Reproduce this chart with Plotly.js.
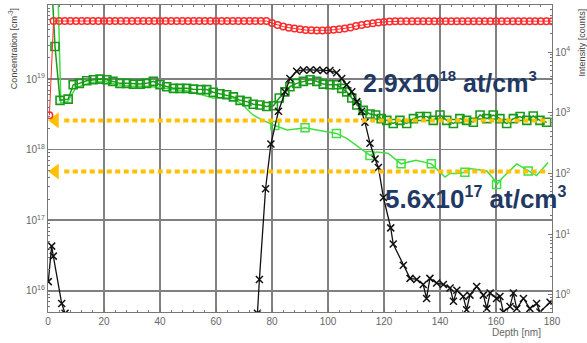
<!DOCTYPE html>
<html>
<head>
<meta charset="utf-8">
<script src="https://cdn.plot.ly/plotly-3.0.1.min.js"></script>
<style>
html,body{margin:0;padding:0;background:#fff;}
#chart{width:587px;height:343px;}
</style>
</head>
<body>
<div id="chart"></div>
<script>
// ---- data ----
// Red circles: matrix intensity (right axis, counts)
const redX = [0.5,2,4,6,8,10,12,14,16,18,20,22,24,26,28,30,32,34,36,38,40,42,44,46,48,50,52,54,56,58,60,62,64,66,68,70,72,74,76,78,
  80,82,84,86,88,90,92,94,96,98,100,102,104,106,108,110,112,114,116,118,120,122,
  124,126,128,130,132,134,136,138,140,142,144,146,148,150,152,154,156,158,160,162,164,166,168,170,172,174,176,178,180];
const redY = [910,3.24e4,3.24e4,3.24e4,3.24e4,3.24e4,3.24e4,3.24e4,3.24e4,3.24e4,3.24e4,3.24e4,3.24e4,3.24e4,3.24e4,3.24e4,3.24e4,3.24e4,3.24e4,3.24e4,3.24e4,3.24e4,3.24e4,3.24e4,3.24e4,3.24e4,3.24e4,3.24e4,3.24e4,3.24e4,3.24e4,3.24e4,3.24e4,3.24e4,3.24e4,3.24e4,3.24e4,3.24e4,3.24e4,3.24e4,
  3.0e4,2.78e4,2.62e4,2.52e4,2.43e4,2.36e4,2.3e4,2.28e4,2.26e4,2.26e4,2.28e4,2.32e4,2.37e4,2.44e4,2.53e4,2.68e4,2.78e4,2.89e4,2.97e4,3.06e4,3.13e4,3.18e4,
  3.22e4,3.22e4,3.22e4,3.22e4,3.22e4,3.22e4,3.22e4,3.22e4,3.22e4,3.22e4,3.22e4,3.22e4,3.22e4,3.22e4,3.22e4,3.22e4,3.22e4,3.22e4,3.22e4,3.22e4,3.22e4,3.22e4,3.22e4,3.22e4,3.22e4,3.22e4,3.22e4,3.22e4,3.22e4];

// Dark green squares: concentration (left axis, cm^-3)
const dgX = [1.2,2.5,4.3,7.2,9.0,11.2,13.8,16.2,18.6,21.0,23.2,25.7,28.1,30.5,32.9,35.2,37.6,40.0,42.4,44.8,47.1,49.5,51.9,54.6,56.7,59.0,61.4,63.8,66.2,68.6,71.0,73.3,75.7,78.1,80.5,82.6,84.6,86.4,88.8,91.2,93.6,96.0,98.3,100.7,103.1,104.9,106.7,108.5,110.3,112.6,115.0,117.0,119.0,121.0,123.3,125.7,128.1,130.5,132.9,135.2,137.6,140.0,142.4,144.8,147.1,149.5,151.9,154.3,156.7,159.0,161.4,163.8,166.2,168.6,171.0,173.3,175.7,178.1];
const dgY = [3e20,2.9e19,5.0e18,5.2e18,8.3e18,8.7e18,9.5e18,9.8e18,1.0e19,9.8e18,9.3e18,8.7e18,8.7e18,8.5e18,8.5e18,8.7e18,9.3e18,8.3e18,7.8e18,7.4e18,7.4e18,7.4e18,7.2e18,7.1e18,7.1e18,6.5e18,6.2e18,6.0e18,5.6e18,5.0e18,4.8e18,4.4e18,4.3e18,4.1e18,4.2e18,5.4e18,6.6e18,7.8e18,8.7e18,9.3e18,9.8e18,9.3e18,8.5e18,8.3e18,8.3e18,7.4e18,6.6e18,5.4e18,4.3e18,3.6e18,3.2e18,3.1e18,2.75e18,2.6e18,2.35e18,2.6e18,2.35e18,2.75e18,2.95e18,2.95e18,2.6e18,3.1e18,2.6e18,2.35e18,2.75e18,2.6e18,2.45e18,3.1e18,2.75e18,3.1e18,2.75e18,2.35e18,2.75e18,2.95e18,2.6e18,3.0e18,2.6e18,2.45e18];

// Light green line: concentration (left axis)
const lgX = [3.4,4.6,7.0,10.0,15.0,20.0,25.0,30.0,35.0,40.0,45.0,50.0,54.9,59.0,66.1,69.6,73.2,76.8,81.0,85.4,90.0,91.8,96.0,99.5,103.0,106.7,110.3,113.2,115.0,117.4,121.4,126.1,131.4,136.9,140.0,141.8,143.6,146.0,148.9,150.7,156.7,159.0,160.2,162.6,167.4,171.5,174.5,178.6];
const lgY = [3e20,4.6e18,4.8e18,7.6e18,8.9e18,9.3e18,8.3e18,7.9e18,7.9e18,7.6e18,7.1e18,6.8e18,6.0e18,5.4e18,5.4e18,4.3e18,3.1e18,2.6e18,2.2e18,1.9e18,2.0e18,2.05e18,1.9e18,1.8e18,1.7e18,1.45e18,1.15e18,9.3e17,8.3e17,9.3e17,8.9e17,6.3e17,7.1e17,6.3e17,4.8e17,4.1e17,4.6e17,4.6e17,4.8e17,5.4e17,5.0e17,3.9e17,3.2e17,4.1e17,6.3e17,5.0e17,4.3e17,6.6e17];
const lgMarkedIdx = [18,21,24,28,31,33,38,42,45];

// Black crosses: concentration (left axis)
const bkX = [0.1,1.3,1.9,4.9,6.1,null,74.8,75.5,77.7,79.6,82.3,84.6,86.4,88.8,91.2,93.6,96.0,98.3,100.7,103.1,104.9,106.7,108.5,110.3,112.0,113.2,115.0,116.8,118.0,119.8,122.4,123.3,126.9,129.3,131.7,134.0,135.2,136.4,138.8,141.2,143.6,144.8,146.0,148.3,149.5,150.7,153.1,155.5,156.7,157.9,160.2,161.4,162.6,165.0,166.2,167.4,169.8,172.1,174.5,175.7,179.3];
const bkY = [1.35e16,4.3e16,3.1e16,6.6e15,4.8e15,null,4.8e15,1.45e16,2.8e17,1.2e18,3.5e18,6.6e18,1.02e19,1.29e19,1.35e19,1.35e19,1.35e19,1.32e19,1.32e19,1.23e19,1.02e19,8.3e18,6.6e18,4.8e18,3.5e18,2.45e18,1.23e18,7.4e17,5.6e17,2.1e17,7.8e16,4.6e16,2.3e16,1.5e16,1.45e16,1.23e16,7.8e15,1.5e16,1.29e16,1.23e16,1.1e16,7.1e15,1.02e16,8.3e15,5.4e15,8.7e15,1.15e16,8.7e15,5.6e15,9.3e15,7.8e15,8.3e15,5.0e15,6.0e15,9.3e15,5.6e15,7.8e15,5.6e15,6.6e15,5.0e15,6.9e15];

// Orange level markers and their labels
const levelY = [2.6e18, 4.9e17];
const levelMantissa = ['2.9', '5.6'];
const levelExponent = ['18', '17'];
const levelUnit = 'at/cm';

// Tick labels
const xTicks = [0,20,40,60,80,100,120,140,160,180];
const leftTickVals = [1e16,1e17,1e18,1e19];
const leftTickText = ['10<sup>16</sup>','10<sup>17</sup>','10<sup>18</sup>','10<sup>19</sup>'];
const rightTickVals = [1,10,100,1000,10000];
const rightTickText = ['10<sup>0</sup>','10<sup>1</sup>','10<sup>2</sup>','10<sup>3</sup>','10<sup>4</sup>'];

// ---- styling / positions ----
const arrowTipX = 2.6, arrowEndX = 179;
const ORANGE = '#FFC000';
const NAVY = '#1F3864';
const GRID = '#808080';
const TICKC = '#666';

function labelText(i, supPx) {
  return levelMantissa[i] + 'x10<sup><span style="font-size:' + supPx + 'px">' + levelExponent[i] +
    '</span></sup> ' + levelUnit + '<sup><span style="font-size:' + supPx + 'px">3</span></sup>';
}

const traces = [];
traces.push({x: redX, y: redY, yaxis: 'y2', mode: 'lines+markers',
  line: {color: '#ff2a2a', width: 1},
  marker: {symbol: 'circle-open', size: 6.5, color: '#ff2a2a', line: {width: 1.5, color: '#ff2a2a'}}});
traces.push({x: lgX, y: lgY, mode: 'lines', line: {color: '#3fe03f', width: 1.5}});
traces.push({x: lgMarkedIdx.map(i => lgX[i]), y: lgMarkedIdx.map(i => lgY[i]), mode: 'markers',
  marker: {symbol: 'square-open', size: 8, color: '#3fe03f', line: {width: 1.5, color: '#3fe03f'}}});
traces.push({x: dgX, y: dgY, mode: 'lines+markers', line: {color: '#1a9a1a', width: 1.5},
  marker: {symbol: 'square-open', size: 8, color: '#1a9a1a', line: {width: 1.6, color: '#1a9a1a'}}});
traces.push({x: bkX, y: bkY, mode: 'lines+markers', line: {color: '#111', width: 1.3},
  marker: {symbol: 'x-thin', size: 7, color: '#111', line: {width: 1.5, color: '#111'}}});
levelY.forEach(v => {
  traces.push({x: [arrowTipX + 3.2, arrowEndX], y: [v, v], mode: 'lines',
    line: {color: ORANGE, width: 4, dash: '5px,3.5px'}});
  traces.push({x: [arrowTipX], y: [v], mode: 'markers',
    marker: {symbol: 'triangle-left', size: 14, color: ORANGE}});
});

const tickFont = {family: 'Liberation Sans, Arial, sans-serif', size: 10, color: TICKC};

const annotations = [
  {xref: 'paper', yref: 'paper', x: 0.621, y: 0.75, xanchor: 'left', yanchor: 'middle',
   text: labelText(0, 15), showarrow: false,
   font: {family: 'Liberation Sans, Arial, sans-serif', size: 25, color: NAVY, weight: 'bold'}},
  {xref: 'paper', yref: 'paper', x: 0.664, y: 0.371, xanchor: 'left', yanchor: 'middle',
   text: labelText(1, 16), showarrow: false,
   font: {family: 'Liberation Sans, Arial, sans-serif', size: 26, color: NAVY, weight: 'bold'}},
  {xref: 'paper', yref: 'paper', x: -0.069, y: 0.857, xanchor: 'center', yanchor: 'middle',
   text: 'Concentration [cm<sup>-3</sup>]', textangle: -90, showarrow: false,
   font: {family: 'Liberation Sans, Arial, sans-serif', size: 9, color: '#444'}},
  {xref: 'paper', yref: 'paper', x: 1.06, y: 0.879, xanchor: 'center', yanchor: 'middle',
   text: 'Intensity [counts]', textangle: -90, showarrow: false,
   font: {family: 'Liberation Sans, Arial, sans-serif', size: 9, color: '#444'}},
  {xref: 'paper', yref: 'paper', x: 0.93, y: -0.068, xanchor: 'center', yanchor: 'middle',
   text: 'Depth [nm]', showarrow: false,
   font: {family: 'Liberation Sans, Arial, sans-serif', size: 10, color: TICKC}}
];

const layout = {
  width: 587, height: 343,
  margin: {l: 48, r: 35, t: 5, b: 31, pad: 0},
  paper_bgcolor: '#fff', plot_bgcolor: '#fff',
  showlegend: false,
  font: tickFont,
  xaxis: {range: [0, 180], tickmode: 'array', tickvals: xTicks, ticktext: xTicks.map(String),
    showgrid: true, gridcolor: GRID, gridwidth: 1.6, zeroline: false,
    showline: true, linecolor: '#777', linewidth: 1.2, mirror: 'ticks',
    ticks: 'inside', ticklen: 4, tickcolor: '#777', tickfont: tickFont,
    minor: {dtick: 4, tick0: 0, ticks: 'inside', ticklen: 2, tickcolor: '#777', showgrid: false}},
  yaxis: {type: 'log', range: [15.70, 20.05], tickmode: 'array', tickvals: leftTickVals, ticktext: leftTickText,
    showgrid: true, gridcolor: GRID, gridwidth: 1.6, zeroline: false,
    showline: true, linecolor: '#777', linewidth: 1.2,
    ticks: 'inside', ticklen: 4, tickcolor: '#777', tickfont: tickFont,
    minor: {dtick: 'D1', ticks: 'inside', ticklen: 2, tickcolor: '#777', showgrid: false}},
  yaxis2: {type: 'log', range: [-0.28, 4.774], overlaying: 'y', side: 'right',
    tickmode: 'array', tickvals: rightTickVals, ticktext: rightTickText,
    showgrid: false, zeroline: false, showline: true, linecolor: '#777', linewidth: 1.2,
    ticks: 'inside', ticklen: 4, tickcolor: '#777', tickfont: tickFont,
    minor: {dtick: 'D1', ticks: 'inside', ticklen: 2, tickcolor: '#777', showgrid: false}},
  annotations: annotations
};

Plotly.newPlot('chart', traces, layout, {displayModeBar: false, staticPlot: true});
</script>
</body>
</html>
